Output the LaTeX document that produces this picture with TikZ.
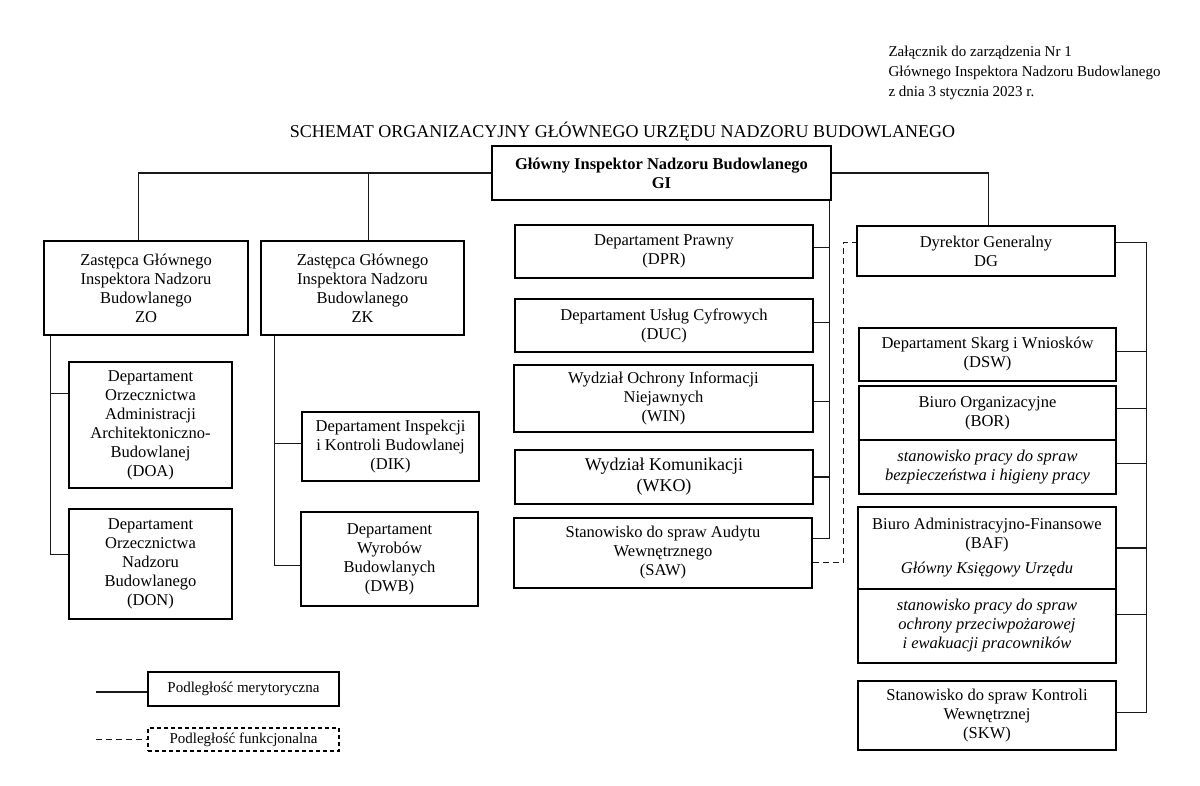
\documentclass[tikz,border=0pt]{standalone}
\usepackage{fontspec}
\setmainfont{Liberation Serif}
\usetikzlibrary{calc}
\begin{document}
\begin{tikzpicture}[x=1pt,y=-1pt,
  box/.style={draw=black, line width=1.5pt, inner sep=0pt, align=center,
    font=\fontsize{16.5}{19}\selectfont, text=black},
  conn/.style={draw=black!90, line width=1.1pt},
  fdash/.style={conn, dash pattern=on 6pt off 4pt},
  lgbox/.style={box, font=\fontsize{15}{18}\selectfont}]
\fill[white] (0,0) rectangle (1200,785);
\useasboundingbox (0,0) rectangle (1200,785);

% header
\node[anchor=west, align=left, font=\fontsize{15}{20}\selectfont, text=black] (hdr) at (885,73)
  {Załącznik do zarządzenia Nr 1\\Głównego Inspektora Nadzoru Budowlanego\\z dnia 3 stycznia 2023 r.};
\node[font=\fontsize{18}{21}\selectfont, text=black] (title) at (622.5,132)
  {SCHEMAT ORGANIZACYJNY GŁÓWNEGO URZĘDU NADZORU BUDOWLANEGO};

% boxes
\node[box, minimum width=339pt, minimum height=54pt, font=\bfseries\fontsize{16.5}{19}\selectfont] (GI) at (661.5,173)
  {Główny Inspektor Nadzoru Budowlanego\\GI};
\node[box, minimum width=204pt, minimum height=94pt] (ZO) at (146,288)
  {Zastępca Głównego\\Inspektora Nadzoru\\Budowlanego\\ZO};
\node[box, minimum width=203pt, minimum height=94pt] (ZK) at (362.5,288)
  {Zastępca Głównego\\Inspektora Nadzoru\\Budowlanego\\ZK};
\node[box, minimum width=163pt, minimum height=126pt] (DOA) at (150.5,425)
  {Departament\\Orzecznictwa\\Administracji\\Architektoniczno-\\Budowlanej\\(DOA)};
\node[box, minimum width=163pt, minimum height=110pt] (DON) at (150.5,564)
  {Departament\\Orzecznictwa\\Nadzoru\\Budowlanego\\(DON)};
\node[box, minimum width=177pt, minimum height=69pt] (DIK) at (390.5,446.5)
  {Departament Inspekcji\\i Kontroli Budowlanej\\(DIK)};
\node[box, minimum width=177pt, minimum height=94pt] (DWB) at (389.5,559)
  {Departament\\Wyrobów\\Budowlanych\\(DWB)};
\node[box, minimum width=298pt, minimum height=53pt] (DPR) at (664,251.5)
  {Departament Prawny\\(DPR)};
\node[box, minimum width=298pt, minimum height=53pt] (DUC) at (664,325.5)
  {Departament Usług Cyfrowych\\(DUC)};
\node[box, minimum width=299pt, minimum height=67pt] (WIN) at (663.5,398.5)
  {Wydział Ochrony Informacji\\Niejawnych\\(WIN)};
\node[box, minimum width=298pt, minimum height=54pt, font=\fontsize{18}{21}\selectfont] (WKO) at (664,477)
  {Wydział Komunikacji\\(WKO)};
\node[box, minimum width=298pt, minimum height=70pt] (SAW) at (663,553)
  {Stanowisko do spraw Audytu\\Wewnętrznego\\(SAW)};
\node[box, minimum width=258pt, minimum height=50pt] (DG) at (986,251)
  {Dyrektor Generalny\\DG};
\node[box, minimum width=257pt, minimum height=53pt] (DSW) at (987.5,354.5)
  {Departament Skarg i Wniosków\\(DSW)};
\node[box, minimum width=257pt, minimum height=54pt] (BOR) at (987.5,413)
  {Biuro Organizacyjne\\(BOR)};
\node[box, minimum width=257pt, minimum height=54pt, font=\itshape\fontsize{16.5}{19}\selectfont] (BHP) at (987.5,467)
  {stanowisko pracy do spraw\\bezpieczeństwa i higieny pracy};
\node[box, minimum width=258pt, minimum height=82pt] (BAF) at (987,548)
  {Biuro Administracyjno-Finansowe\\(BAF)\\[6pt]\textit{Główny Księgowy Urzędu}};
\node[box, minimum width=258pt, minimum height=74pt, font=\itshape\fontsize{16.5}{19}\selectfont] (PPOZ) at (987,626)
  {stanowisko pracy do spraw\\ochrony przeciwpożarowej\\i ewakuacji pracowników};
\node[box, minimum width=258pt, minimum height=69pt] (SKW) at (987,715.5)
  {Stanowisko do spraw Kontroli\\Wewnętrznej\\(SKW)};

% legend
\node[lgbox, minimum width=191pt, minimum height=34pt] (L1) at (243.5,689) {Podległość merytoryczna};
\node[lgbox, minimum width=191pt, minimum height=23pt, dash pattern=on 4pt off 3pt] (L2) at (243.5,739.5) {Podległość funkcjonalna};
\coordinate (lg1) at (96,692);
\coordinate (lg2) at (96,739.5);
\draw[conn] (lg1) -- (lg1 -| L1.west);
\draw[fdash] (lg2) -- (L2.west);

% GI to deputies and DG
\draw[conn] (GI.west) -| ($(ZO.north west)+(95,0)$);
\draw[conn] ($(ZK.north west)+(108,0)$) coordinate (zkt) -- (zkt |- GI.west);
\draw[conn] (GI.east) -| ($(DG.north west)+(132,0)$);

% middle spine
\draw[conn] ($(GI.south east)+(-2,0)$) coordinate (msp) |- ($(SAW.north east)+(0,21)$);
\draw[conn] ($(DPR.north east)+(0,23)$) coordinate (dprj) -- (dprj -| msp);
\draw[conn] ($(DUC.north east)+(0,24)$) coordinate (ducj) -- (ducj -| msp);
\draw[conn] ($(WIN.north east)+(0,37)$) coordinate (winj) -- (winj -| msp);
\draw[conn] (WKO.east) -- (WKO.east -| msp);

% functional (dashed) link
\draw[fdash] ($(SAW.south east)+(0,-26)$) -- ++(31,0) |- ($(DG.north west)+(0,17)$);

% right spine
\draw[conn] ($(DG.north east)+(0,17)$) -- ++(31,0) coordinate (rsp) |- ($(SKW.north east)+(0,32)$);
\draw[conn] ($(DSW.north east)+(0,24)$) coordinate (dswj) -- (dswj -| rsp);
\draw[conn] ($(BOR.north east)+(0,23)$) coordinate (borj) -- (borj -| rsp);
\draw[conn] ($(BHP.north east)+(0,24)$) coordinate (bhpj) -- (bhpj -| rsp);
\draw[conn] (BAF.east) -- (BAF.east -| rsp);
\draw[conn] ($(PPOZ.north east)+(0,26)$) coordinate (ppj) -- (ppj -| rsp);

% left spines
\draw[conn] ($(ZO.south west)+(7,0)$) coordinate (lsp) |- ($(DON.north west)+(0,46)$);
\draw[conn] ($(DOA.north west)+(0,32)$) coordinate (doaj) -- (doaj -| lsp);
\draw[conn] ($(ZK.south west)+(14,0)$) coordinate (ksp) |- ($(DWB.north west)+(0,54)$);
\draw[conn] ($(DIK.north west)+(0,32)$) coordinate (dikj) -- (dikj -| ksp);
\end{tikzpicture}
\end{document}
